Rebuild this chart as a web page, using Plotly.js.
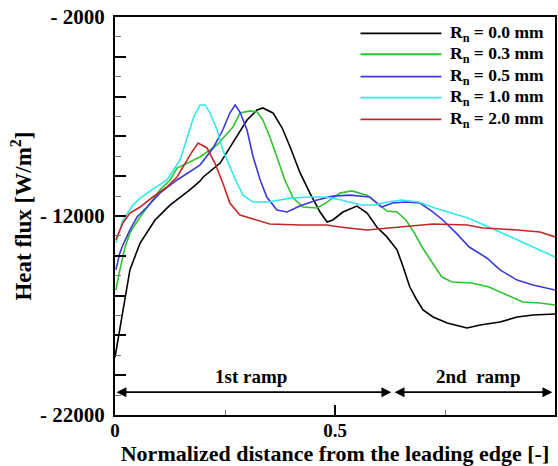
<!DOCTYPE html>
<html>
<head>
<meta charset="utf-8">
<script src="https://cdn.plot.ly/plotly-3.0.1.min.js"></script>
<style>html,body{margin:0;padding:0;background:#fff;}#chart{width:558px;height:466px;}</style>
</head>
<body>
<div id="chart"></div>
<script>
// Series names
const seriesNames = ["R<sub>n</sub> = 0.0 mm", "R<sub>n</sub> = 0.3 mm", "R<sub>n</sub> = 0.5 mm", "R<sub>n</sub> = 1.0 mm", "R<sub>n</sub> = 2.0 mm"];
const seriesColors = ["#000000", "#2ec42e", "#3a3ad6", "#33e8e8", "#c02828"];

// Rn = 0.0 mm
const x00 = [0, 0.023, 0.034, 0.057, 0.091, 0.125, 0.170, 0.193, 0.200, 0.239, 0.268, 0.300, 0.323, 0.336, 0.359, 0.380, 0.398, 0.420, 0.443, 0.466, 0.482, 0.495, 0.518, 0.550, 0.573, 0.595, 0.618, 0.641, 0.655, 0.670, 0.686, 0.700, 0.723, 0.755, 0.800, 0.830, 0.875, 0.914, 0.950, 1.0];
const y00 = [-19100, -16070, -14700, -13360, -12200, -11450, -10690, -10250, -10050, -9340, -8330, -7175, -6670, -6570, -6820, -7580, -8530, -9800, -10850, -11800, -12300, -12200, -11800, -11500, -11850, -12550, -13050, -13700, -14560, -15570, -16220, -16720, -17075, -17380, -17630, -17480, -17330, -17075, -16975, -16925];

// Rn = 0.3 mm
const x03 = [0.002, 0.011, 0.023, 0.034, 0.057, 0.080, 0.102, 0.125, 0.141, 0.193, 0.232, 0.268, 0.284, 0.307, 0.323, 0.336, 0.352, 0.368, 0.386, 0.405, 0.427, 0.459, 0.482, 0.511, 0.538, 0.573, 0.595, 0.618, 0.641, 0.661, 0.679, 0.698, 0.720, 0.743, 0.766, 0.811, 0.850, 0.889, 0.927, 0.966, 1.0];
const y03 = [-15720, -14710, -13560, -12850, -12050, -11350, -10690, -10190, -9590, -9035, -8430, -7530, -6825, -6720, -6775, -7175, -8030, -9035, -10190, -11100, -11550, -11600, -11300, -10850, -10740, -10950, -11350, -11750, -11800, -12200, -12800, -13560, -14310, -15070, -15320, -15370, -15570, -15970, -16320, -16370, -16470];

// Rn = 0.5 mm
const x05 = [0.002, 0.011, 0.018, 0.034, 0.050, 0.073, 0.102, 0.141, 0.193, 0.223, 0.245, 0.261, 0.273, 0.284, 0.300, 0.314, 0.330, 0.345, 0.368, 0.391, 0.420, 0.459, 0.495, 0.534, 0.579, 0.606, 0.631, 0.661, 0.693, 0.723, 0.745, 0.775, 0.805, 0.845, 0.875, 0.914, 0.950, 1.0];
const y05 = [-14700, -13860, -13460, -12700, -12050, -11550, -10850, -10190, -9440, -8580, -7680, -6825, -6420, -6775, -7680, -9035, -10190, -11045, -11700, -11800, -11500, -11200, -11000, -10950, -11045, -11550, -11350, -11300, -11350, -11800, -12200, -12850, -13560, -14110, -14710, -15220, -15470, -15720];

// Rn = 1.0 mm
const x10 = [0.002, 0.018, 0.041, 0.057, 0.086, 0.118, 0.148, 0.164, 0.179, 0.193, 0.205, 0.216, 0.232, 0.245, 0.261, 0.277, 0.291, 0.314, 0.350, 0.398, 0.443, 0.480, 0.514, 0.559, 0.589, 0.620, 0.652, 0.690, 0.727, 0.766, 0.802, 0.839, 0.875, 0.914, 0.950, 1.0];
const y10 = [-13350, -12200, -11450, -11100, -10650, -10190, -9185, -8030, -7025, -6420, -6420, -6825, -7680, -8680, -9540, -10340, -10950, -11300, -11300, -11100, -11045, -11045, -11200, -11450, -11450, -11300, -11200, -11300, -11600, -11850, -12100, -12450, -12800, -13200, -13560, -14060];

// Rn = 2.0 mm
const x20 = [0.002, 0.018, 0.034, 0.057, 0.086, 0.118, 0.141, 0.166, 0.175, 0.189, 0.209, 0.227, 0.245, 0.261, 0.284, 0.314, 0.352, 0.420, 0.482, 0.511, 0.573, 0.648, 0.723, 0.800, 0.836, 0.914, 0.966, 1.0];
const y20 = [-13200, -12350, -11850, -11550, -11045, -10540, -10040, -9100, -8780, -8330, -8580, -9340, -10340, -11350, -11950, -12150, -12400, -12450, -12450, -12550, -12700, -12550, -12400, -12450, -12600, -12700, -12800, -13050];

const xSeries = [x00, x03, x05, x10, x20];
const ySeries = [y00, y03, y05, y10, y20];

// Axis ticks
const yTickVals = [-22000, -20000, -18000, -16000, -14000, -12000, -10000, -8000, -6000, -4000, -2000];
const yTickText = ["- 22000", "", "", "", "", "- 12000", "", "", "", "", "- 2000"];
const xTickVals = [0, 0.5, 1];
const xTickText = ["0", "0.5", "1"];

// Ramp annotations
const rampLabels = ["1st ramp", "2nd  ramp"];
const rampStart = [0, 0.632];
const rampEnd = [0.628, 0.994];
const rampArrowY = -20855;
const rampLabelY = -20050;

const font = {family: "Liberation Serif, Times New Roman, serif", color: "#000", weight: "bold"};

const traces = xSeries.map((xs, i) => ({
  x: xs, y: ySeries[i], type: "scatter", mode: "lines",
  name: seriesNames[i], line: {color: seriesColors[i], width: 1.6},
  showlegend: false
}));

// Manual legend (paper coordinates)
const legY = [0.959, 0.9064, 0.850, 0.7975, 0.743];
const shapes = [];
const annotations = [];
seriesNames.forEach((n, i) => {
  shapes.push({type: "line", xref: "paper", yref: "paper", x0: 0.558, x1: 0.7417, y0: legY[i], y1: legY[i],
    line: {color: seriesColors[i], width: 1.8}});
  annotations.push({xref: "paper", yref: "paper", x: 0.7560, y: legY[i], xanchor: "left", yanchor: "middle",
    text: "<b>" + n + "</b>", showarrow: false, font: Object.assign({}, font, {size: 17.5})});
});

// Ramp arrows and labels
rampLabels.forEach((t, i) => {
  annotations.push({x: rampEnd[i], y: rampArrowY, ax: rampStart[i], ay: rampArrowY, xref: "x", yref: "y", axref: "x", ayref: "y",
    text: "", showarrow: true, arrowhead: 2, startarrowhead: 2, arrowside: "end+start", arrowsize: 1.1, startarrowsize: 1.1, arrowwidth: 1.8, arrowcolor: "#000", standoff: 0, startstandoff: 0});
  annotations.push({x: (rampStart[i] + rampEnd[i]) / 2 + (i === 0 ? -0.005 : 0.012), y: rampLabelY, xref: "x", yref: "y",
    text: "<b>" + t + "</b>", showarrow: false, font: Object.assign({}, font, {size: 19}), yanchor: "middle"});
});

const layout = {
  width: 558, height: 466,
  margin: {l: 115, r: 2.5, t: 17, b: 50.5, pad: 0},
  paper_bgcolor: "#fff", plot_bgcolor: "#fff",
  font: Object.assign({}, font, {size: 20}),
  showlegend: false,
  xaxis: {
    range: [0, 1], showgrid: false, zeroline: false,
    showline: true, linecolor: "#000", linewidth: 2, mirror: true,
    tickmode: "array", tickvals: xTickVals, ticktext: xTickText,
    ticks: "inside", ticklen: 10, tickwidth: 2, tickcolor: "#000",
    minor: {dtick: 0.25, ticks: "inside", ticklen: 5, tickwidth: 1, tickcolor: "#777"},
    tickfont: Object.assign({}, font, {size: 19}), ticklabelstandoff: -3,
    title: {text: "Normalized distance from the leading edge [-]", font: Object.assign({}, font, {size: 22}), standoff: 0},
    automargin: false
  },
  yaxis: {
    range: [-22000, -2000], showgrid: false, zeroline: false,
    showline: true, linecolor: "#000", linewidth: 2, mirror: true,
    tickmode: "array", tickvals: yTickVals, ticktext: yTickText,
    ticks: "inside", ticklen: 11, tickwidth: 2, tickcolor: "#000",
    minor: {dtick: 1000, ticks: "inside", ticklen: 6, tickwidth: 1, tickcolor: "#777"},
    tickfont: Object.assign({}, font, {size: 21}), ticklabelstandoff: 4,
    title: {text: "Heat flux [W/m<sup>2</sup>]", font: Object.assign({}, font, {size: 23}), standoff: 2},
    automargin: false
  },
  shapes: shapes,
  annotations: annotations
};

Plotly.newPlot("chart", traces, layout, {displayModeBar: false, staticPlot: true});
</script>
</body>
</html>
